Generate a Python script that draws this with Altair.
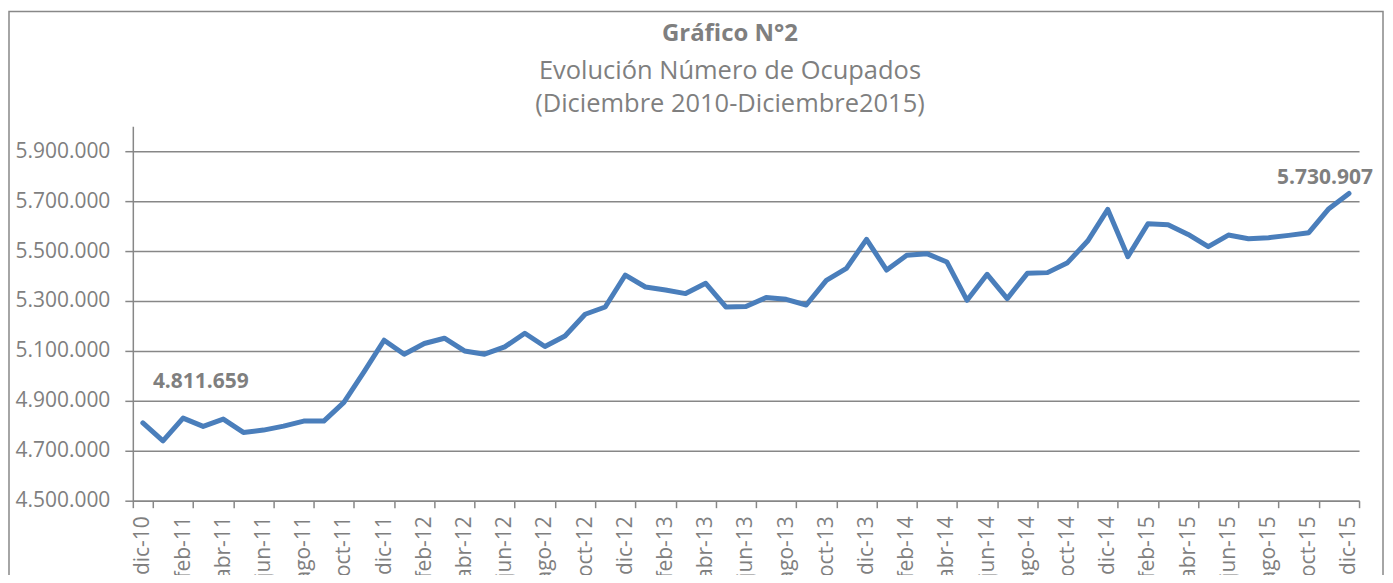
import altair as alt
import pandas as pd

# ---- data ----
months_es = ["ene", "feb", "mar", "abr", "may", "jun", "jul", "ago", "sep", "oct", "nov", "dic"]
periods = ["dic-10"] + [f"{m}-{y}" for y in range(11, 16) for m in months_es]

ocupados = [
    4811659, 4740000, 4830800, 4797600, 4826800, 4773600, 4782800, 4798800,
    4818800, 4818800, 4893600, 5016000, 5142800, 5086800, 5129600, 5150800,
    5100000, 5086800, 5116000, 5170800, 5117600, 5160000, 5246800, 5276000,
    5404000, 5356000, 5344000, 5329600, 5370800, 5276000, 5277600, 5313600,
    5306800, 5284000, 5382800, 5430800, 5546800, 5424000, 5482800, 5489600,
    5456000, 5302800, 5406800, 5309600, 5410800, 5413600, 5453600, 5540000,
    5666800, 5477600, 5609600, 5605600, 5566800, 5517600, 5564000, 5549600,
    5553600, 5562800, 5573600, 5669600, 5730907,
]

y_ticks = [4500000, 4700000, 4900000, 5100000, 5300000, 5500000, 5700000, 5900000]
x_label_values = periods[::2]

title_text = "Gráfico N°2"
subtitle_lines = ["Evolución Número de Ocupados", "(Diciembre 2010-Diciembre2015)"]

GRAY = "#7f7f7f"
AXIS_GRAY = "#878787"
BLUE = "#4a7ebb"
FONT = "Open Sans"

df = pd.DataFrame({"periodo": periods, "ocupados": ocupados})


def fmt(v):
    return f"{v:,}".replace(",", ".")


first_df = pd.DataFrame({"periodo": [periods[0]], "ocupados": [ocupados[0]], "texto": [fmt(ocupados[0])]})
last_df = pd.DataFrame({"periodo": [periods[-1]], "ocupados": [ocupados[-1]], "texto": [fmt(ocupados[-1])]})

x_enc = alt.X(
    "periodo:N",
    sort=periods,
    bandPosition=0.5,
    scale=alt.Scale(type="band", paddingInner=0, paddingOuter=0),
    axis=alt.Axis(
        title=None,
        values=x_label_values,
        tickBand="extent",
        labelAngle=-90,
        labelFontSize=21,
        labelPadding=8,
        tickSize=7,
        grid=False,
        labelOverlap=False,
        labelFlush=False,
    ),
)

y_enc = alt.Y(
    "ocupados:Q",
    scale=alt.Scale(domain=[4500000, 6000000], nice=False, zero=False),
    axis=alt.Axis(
        title=None,
        values=y_ticks,
        grid=True,
        tickSize=8,
        labelPadding=15,
        labelFontSize=21,
        labelExpr="replace(format(datum.value, ','), regexp(',', 'g'), '.')",
    ),
)

line = alt.Chart(df).mark_line(
    color=BLUE, strokeWidth=5, strokeJoin="round", strokeCap="round"
).encode(x=x_enc, y=y_enc)

lab_first = alt.Chart(first_df).mark_text(
    font=FONT, fontSize=21, fontWeight="bold", color=GRAY, align="center", baseline="middle", dx=58, dy=-41
).encode(x=alt.X("periodo:N", sort=periods, bandPosition=0.5), y="ocupados:Q", text="texto:N")

lab_last = alt.Chart(last_df).mark_text(
    font=FONT, fontSize=21, fontWeight="bold", color=GRAY, align="center", baseline="middle", dx=-24, dy=-15
).encode(x=alt.X("periodo:N", sort=periods, bandPosition=0.5), y="ocupados:Q", text="texto:N")

border = alt.Chart(pd.DataFrame({"a": [0]})).mark_rect(
    fill="transparent", stroke="#888888", strokeWidth=1.5
).encode(x=alt.value(-124), x2=alt.value(1252), y=alt.value(-115), y2=alt.value(470))

chart = (
    alt.layer(border, line, lab_first, lab_last)
    .properties(
        width=1228,
        height=375,
        autosize=alt.AutoSizeParams(type="none"),
        padding={"left": 125, "top": 118, "right": 26, "bottom": 74},
        title=alt.TitleParams(
            text=title_text,
            subtitle=subtitle_lines,
            anchor="middle",
            dx=-16,
            dy=117,
            offset=10,
            font=FONT,
            fontSize=24,
            fontWeight="bold",
            color=GRAY,
            subtitleFont=FONT,
            subtitleFontSize=25.5,
            subtitleColor=GRAY,
            subtitleLineHeight=33,
            subtitlePadding=13,
        ),
    )
    .configure_view(stroke="transparent")
    .configure_axis(
        labelFont=FONT,
        labelColor=GRAY,
        domainColor=AXIS_GRAY,
        domainWidth=1.5,
        tickColor=AXIS_GRAY,
        tickWidth=1.5,
        gridColor=AXIS_GRAY,
        gridWidth=1.5,
    )
)

chart.save("out.html", embed_options={"renderer": "svg", "actions": False})
